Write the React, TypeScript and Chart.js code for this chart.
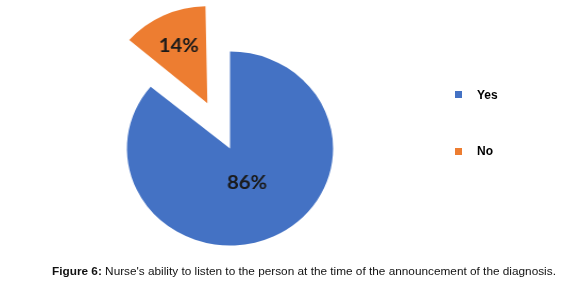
import { useEffect, useRef } from "react";
import { Chart, PieController, ArcElement } from "chart.js";

Chart.register(PieController, ArcElement);

// Answers and their share of respondents (percent)
const categories = ["Yes", "No"];
const percentages = [86, 14];
const sliceColors = ["#4472C4", "#ED7D31"];
// Chart.js moves an arc by offset / 4 along its bisector
const explodeOffsets = [0, 200];

const captionLead = "Figure 6:";
const captionText = " Nurse's ability to listen to the person at the time of the announcement of the diagnosis.";

// Where each percentage label sits along the slice bisector, as a share of the radius
const labelRadiusRatio = [0.39, 0.74];

const CANVAS_W = 433;
const CANVAS_H = 283;
const STRETCH_X = 1.063;

// Keep exploded slices at the same radius as the rest of the pie
const keepRadiusPlugin = {
  id: "keepRadius",
  afterDatasetUpdate(chart: any) {
    const meta = chart.getDatasetMeta(0);
    meta.data.forEach((arc: any) => {
      const offset = (arc.options && arc.options.offset) || 0;
      if (!offset) return;
      const fix = 1 - Math.sin(Math.min(Math.PI, arc.circumference || 0));
      arc.outerRadius = arc.outerRadius - (offset / 4) * fix;
    });
  },
};

const valueLabelPlugin = {
  id: "valueLabels",
  afterDatasetsDraw(chart: any) {
    const ctx = chart.ctx;
    const meta = chart.getDatasetMeta(0);
    ctx.save();
    ctx.font = "bold 19px Lato, 'Open Sans', sans-serif";
    ctx.fillStyle = "#1a1a1a";
    ctx.textAlign = "center";
    ctx.textBaseline = "middle";
    meta.data.forEach((arc: any, i: number) => {
      const { x, y, startAngle, endAngle, outerRadius } = arc;
      const mid = (startAngle + endAngle) / 2;
      const shift = ((arc.options && arc.options.offset) || 0) / 4;
      const d = shift + outerRadius * labelRadiusRatio[i];
      ctx.fillText(`${percentages[i]}%`, x + Math.cos(mid) * d, y + Math.sin(mid) * d);
    });
    ctx.restore();
  },
};

export default function App() {
  const canvasRef = useRef<HTMLCanvasElement | null>(null);

  useEffect(() => {
    if (!canvasRef.current) return;
    const chart = new Chart(canvasRef.current, {
      type: "pie",
      data: {
        labels: categories,
        datasets: [
          {
            data: percentages,
            backgroundColor: sliceColors,
            borderWidth: 0,
            offset: explodeOffsets,
            hoverOffset: 0,
          },
        ],
      },
      options: {
        responsive: false,
        maintainAspectRatio: false,
        animation: false,
        events: [],
        radius: 97,
        layout: { padding: { top: 14, left: 0, right: 0, bottom: 0 } },
      } as any,
      plugins: [keepRadiusPlugin, valueLabelPlugin],
    });
    return () => chart.destroy();
  }, []);

  const legendFont = "bold 12px 'Liberation Sans', Arial, sans-serif";
  const legendTops = [87.7, 144.4];

  return (
    <div
      style={{
        position: "fixed",
        left: 0,
        top: 0,
        width: 581,
        height: 283,
        background: "#ffffff",
        overflow: "hidden",
      }}
    >
      <canvas
        ref={canvasRef}
        width={CANVAS_W}
        height={CANVAS_H}
        style={{
          position: "absolute",
          left: 0,
          top: 0,
          width: CANVAS_W * STRETCH_X,
          height: CANVAS_H,
        }}
      />
      {categories.map((name, i) => (
        <div
          key={name}
          style={{
            position: "absolute",
            left: 455,
            top: legendTops[i],
            height: 14,
            display: "flex",
            alignItems: "center",
            font: legendFont,
            lineHeight: "14px",
            color: "#000",
            whiteSpace: "nowrap",
          }}
        >
          <span
            style={{
              display: "inline-block",
              width: 7,
              height: 7,
              background: sliceColors[i],
              marginRight: 15,
            }}
          />
          <span>{name}</span>
        </div>
      ))}
      <div
        style={{
          position: "absolute",
          left: 52,
          top: 264.2,
          font: "11.8px 'Liberation Sans', Arial, sans-serif",
          lineHeight: "14px",
          color: "#111",
          whiteSpace: "nowrap",
        }}
      >
        <b>{captionLead}</b>
        {captionText}
      </div>
    </div>
  );
}
